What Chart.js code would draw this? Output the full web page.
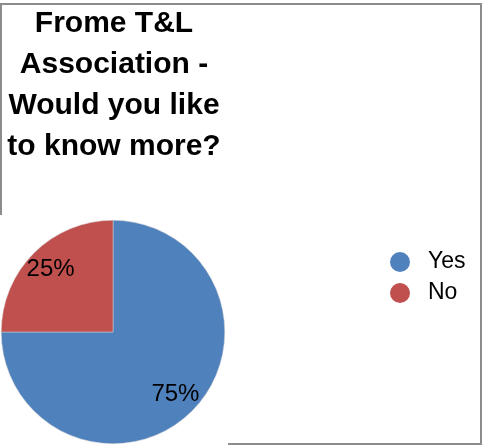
<!DOCTYPE html>
<html lang="en">
<head>
<meta charset="UTF-8">
<title>Frome T&amp;L Association</title>
<script src="https://cdn.jsdelivr.net/npm/chart.js@4"></script>
<style>
  * { margin: 0; padding: 0; box-sizing: border-box; }
  body { background: #fff; width: 483px; height: 446px; overflow: hidden; }
  canvas { display: block; }
</style>
</head>
<body>
<canvas id="pie" width="483" height="446"></canvas>
<script>
// ── Data ─────────────────────────────────────────────────────────────────────
const labels = ['Yes', 'No'];
const values = [75, 25];
const colors = ['#4F81BD', '#C0504D'];
const titleLines = ['Frome T&L', 'Association -', 'Would you like', 'to know more?'];

const font = '"Liberation Sans", Arial, sans-serif';

// frame lines, partly hidden behind the title and the pie like in the original
const framePlugin = {
  id: 'frame',
  beforeDraw(chart) {
    const ctx = chart.ctx;
    ctx.save();
    ctx.fillStyle = '#fff';
    ctx.fillRect(0, 0, chart.width, chart.height);
    ctx.strokeStyle = '#8c8c8c';
    ctx.lineWidth = 2;
    ctx.beginPath();
    ctx.moveTo(0, 4); ctx.lineTo(482, 4);
    ctx.moveTo(1, 4); ctx.lineTo(1, 215);
    ctx.moveTo(481, 4); ctx.lineTo(481, 444);
    ctx.moveTo(228, 444); ctx.lineTo(482, 444);
    ctx.stroke();
    ctx.restore();
  }
};

const titlePlugin = {
  id: 'multiTitle',
  afterDraw(chart) {
    const ctx = chart.ctx;
    ctx.save();
    ctx.fillStyle = '#000';
    ctx.font = 'bold 30px ' + font;
    ctx.textAlign = 'center';
    ctx.textBaseline = 'alphabetic';
    titleLines.forEach((line, i) => ctx.fillText(line, 114, 32 + i * 41));
    ctx.restore();
  }
};

const sliceLabels = {
  id: 'sliceLabels',
  afterDatasetsDraw(chart) {
    const ctx = chart.ctx;
    const meta = chart.getDatasetMeta(0);
    const total = values.reduce((s, v) => s + v, 0);
    ctx.save();
    ctx.fillStyle = '#000';
    ctx.font = '24px ' + font;
    ctx.textAlign = 'center';
    ctx.textBaseline = 'middle';
    meta.data.forEach((arc, i) => {
      const p = arc.getProps(['x', 'y', 'startAngle', 'endAngle', 'outerRadius'], true);
      const mid = (p.startAngle + p.endAngle) / 2;
      const r = p.outerRadius * 0.79;
      const pct = Math.round(values[i] / total * 100) + '%';
      ctx.fillText(pct, p.x + Math.cos(mid) * r, p.y + Math.sin(mid) * r);
    });
    ctx.restore();
  }
};

const sideLegend = {
  id: 'sideLegend',
  afterDraw(chart) {
    const ctx = chart.ctx;
    ctx.save();
    ctx.font = '23px ' + font;
    ctx.textBaseline = 'middle';
    labels.forEach((lab, i) => {
      const y = 262 + i * 31;
      ctx.fillStyle = colors[i];
      ctx.beginPath();
      ctx.arc(400, y, 10, 0, Math.PI * 2);
      ctx.fill();
      ctx.fillStyle = '#000';
      ctx.fillText(lab, 428, y);
    });
    ctx.restore();
  }
};

new Chart(document.getElementById('pie'), {
  type: 'pie',
  data: {
    labels: labels,
    datasets: [{ data: values, backgroundColor: colors, borderWidth: 0.5, borderColor: '#d0d0d0' }]
  },
  options: {
    responsive: false,
    animation: false,
    layout: { padding: { left: 1, top: 220, right: 258, bottom: 2 } },
    plugins: { legend: { display: false }, tooltip: { enabled: false }, title: { display: false } }
  },
  plugins: [framePlugin, titlePlugin, sliceLabels, sideLegend]
});
</script>
</body>
</html>
